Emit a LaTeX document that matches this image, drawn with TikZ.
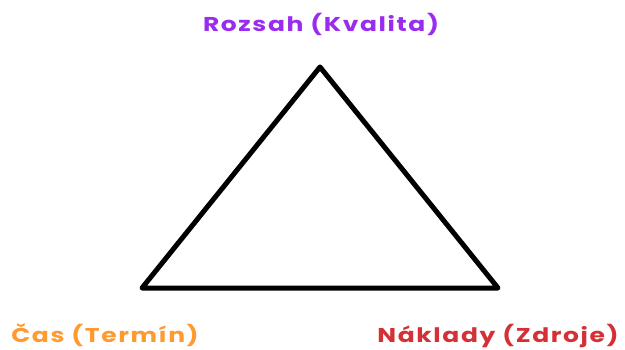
\documentclass[tikz,border=0pt]{standalone}
\usepackage{fontspec}
\setmainfont{Poppins}
\newfontfamily\lblfont[LetterSpace=8,FakeStretch=1.25]{Poppins}
\begin{document}
\begin{tikzpicture}[x=1pt,y=-1pt,
  lbl/.style={font=\lblfont\bfseries\fontsize{20}{24}\selectfont, inner sep=0pt, anchor=base},
  edge/.style={line width=5pt, line join=round, line cap=round}]
\useasboundingbox[fill=white] (0,0) rectangle (625,349);
\definecolor{cpurple}{HTML}{9A2CF0}
\definecolor{corange}{HTML}{FF9A30}
\definecolor{cred}{HTML}{D43035}
\coordinate (T) at (320,67);
\coordinate (L) at (142,288);
\coordinate (R) at (498,288);
\draw[edge] (T) -- (L) -- (R) -- cycle;
\node[lbl, text=cpurple] (top) at (321,31) {Rozsah (Kvalita)};
\node[lbl, text=corange] (left) at (105,342) {Čas (Termín)};
\node[lbl, text=cred] (right) at (498,342) {Náklady (Zdroje)};
\end{tikzpicture}
\end{document}
